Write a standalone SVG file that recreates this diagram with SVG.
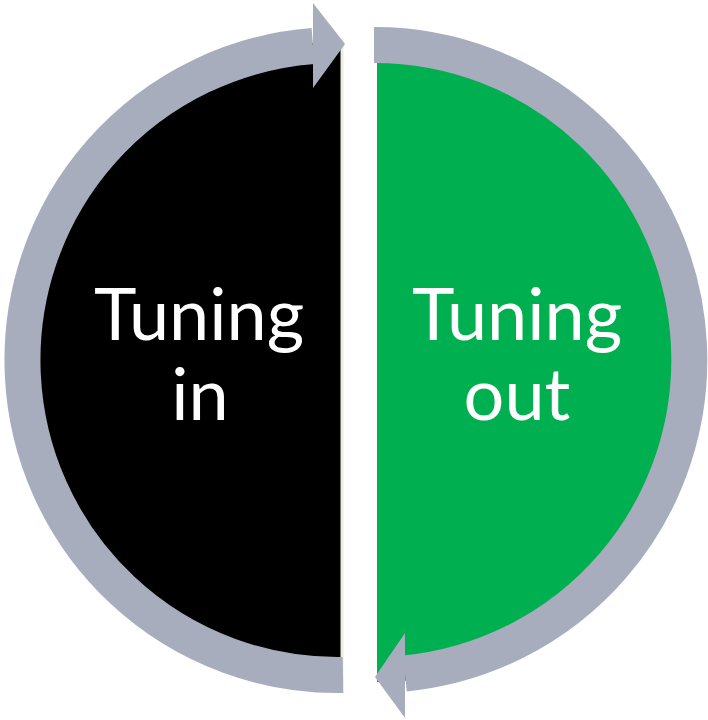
<svg xmlns="http://www.w3.org/2000/svg" width="708" height="720" viewBox="0 0 708 720">
  <style>
    .lbl { font-family: Lato, "Open Sans", "Liberation Sans", sans-serif; font-size: 72px; fill: #FFFFFF; text-anchor: middle; }
    .arc { fill: none; stroke: #A8ADBD; stroke-width: 36; stroke-linecap: butt; }
    .head { fill: #A8ADBD; }
  </style>
  <rect width="708" height="720" fill="#FFFFFF"/>
  <g id="tuning-in">
    <path d="M342,40 A321,321 0 0 0 342,682 Z" fill="#000000" stroke="#EEECE1" stroke-width="3"/>
  </g>
  <g id="tuning-out">
    <path d="M377,40 A321,321 0 0 1 377,682 Z" fill="#00B050"/>
  </g>
  <g id="connectors">
    <path class="arc" d="M343,675 A315,315 0 0 1 313,46"/>
    <polygon class="head" points="313,3 345,44 313,88"/>
    <path class="arc" d="M374,45 A315,315 0 0 1 405,673.5"/>
    <polygon class="head" points="405,633 375,677 405,718"/>
  </g>
  <g id="labels">
    <text class="lbl" x="199" y="340">Tuning</text>
    <text class="lbl" x="200" y="420">in</text>
    <text class="lbl" x="517" y="340">Tuning</text>
    <text class="lbl" x="517" y="420">out</text>
  </g>
</svg>
